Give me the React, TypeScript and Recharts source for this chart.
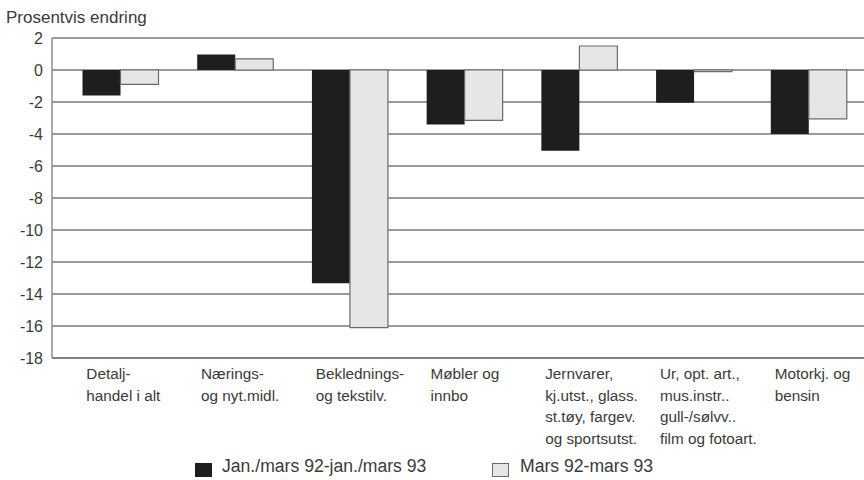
import React from "react";
import { BarChart, Bar, XAxis, YAxis, CartesianGrid } from "recharts";

const categories = [
  "Detalj-\nhandel i alt",
  "Nærings-\nog nyt.midl.",
  "Beklednings-\nog tekstilv.",
  "Møbler og\ninnbo",
  "Jernvarer,\nkj.utst., glass.\nst.tøy, fargev.\nog sportsutst.",
  "Ur, opt. art.,\nmus.instr..\ngull-/sølvv..\nfilm og fotoart.",
  "Motorkj. og\nbensin",
];
const janMars = [-1.6, 0.97, -13.33, -3.4, -5.05, -2.05, -4.0];
const mars = [-0.9, 0.7, -16.1, -3.15, 1.5, -0.1, -3.05];
const yTicks = [2, 0, -2, -4, -6, -8, -10, -12, -14, -16, -18];
const seriesNames = ["Jan./mars 92-jan./mars 93", "Mars 92-mars 93"];
const yTitle = "Prosentvis endring";

const data = categories.map((c, i) => ({ cat: c, a: janMars[i], b: mars[i] }));

const FONT = "'Liberation Sans', Arial, Helvetica, sans-serif";
const TEXT = "#3a3a3a";
const GRID = "#7a7a7a";
const DARK = "#1e1e1e";
const LIGHT = "#e6e6e6";

const CatTick = (props: any) => {
  const { x, y, payload } = props;
  const lines = String(payload.value).split("\n");
  return (
    <text x={x - 34} y={y} fill={TEXT} fontSize={15.3} fontFamily={FONT} textAnchor="start">
      {lines.map((l, i) => (
        <tspan key={i} x={x - 34} dy={i === 0 ? 21 : 21.5}>
          {l}
        </tspan>
      ))}
    </text>
  );
};

export default function App() {
  return (
    <div
      style={{
        position: "absolute",
        left: 0,
        top: 0,
        width: 864,
        height: 480,
        overflow: "hidden",
        background: "#fff",
        fontFamily: FONT,
      }}
    >
      <div
        style={{
          position: "absolute",
          left: 6,
          top: 8,
          fontSize: 17,
          color: TEXT,
          whiteSpace: "nowrap",
        }}
      >
        {yTitle}
      </div>
      <BarChart
        width={870}
        height={480}
        data={data}
        margin={{ top: 38, right: 4, left: 0, bottom: 2 }}
        barCategoryGap="17%"
        barGap={0}
      >
        <CartesianGrid vertical={false} stroke={GRID} strokeWidth={1.3} />
        <XAxis
          dataKey="cat"
          height={120}
          interval={0}
          tickLine={false}
          tickSize={0}
          tickMargin={0}
          axisLine={{ stroke: GRID, strokeWidth: 1.3 }}
          padding={{ left: 11, right: 0 }}
          tick={<CatTick />}
        />
        <YAxis
          width={52}
          domain={[-18, 2]}
          ticks={yTicks}
          interval={0}
          tickLine={false}
          tickSize={0}
          tickMargin={9}
          axisLine={{ stroke: GRID, strokeWidth: 1.3 }}
          tick={{ fill: TEXT, fontSize: 16, fontFamily: FONT }}
        />
        <Bar dataKey="a" name={seriesNames[0]} fill={DARK} isAnimationActive={false} />
        <Bar dataKey="b" name={seriesNames[1]} fill={LIGHT} stroke="#6a6a6a" strokeWidth={1.2} isAnimationActive={false} />
      </BarChart>
      <div style={{ position: "absolute", left: 195, top: 463, width: 17, height: 14, background: DARK }} />
      <div style={{ position: "absolute", left: 222, top: 456, fontSize: 17.6, color: TEXT, whiteSpace: "nowrap" }}>
        {seriesNames[0]}
      </div>
      <div
        style={{
          position: "absolute",
          left: 492,
          top: 463,
          width: 15,
          height: 12,
          background: LIGHT,
          border: "1px solid #6a6a6a",
        }}
      />
      <div style={{ position: "absolute", left: 520, top: 456, fontSize: 17.6, color: TEXT, whiteSpace: "nowrap" }}>
        {seriesNames[1]}
      </div>
    </div>
  );
}
